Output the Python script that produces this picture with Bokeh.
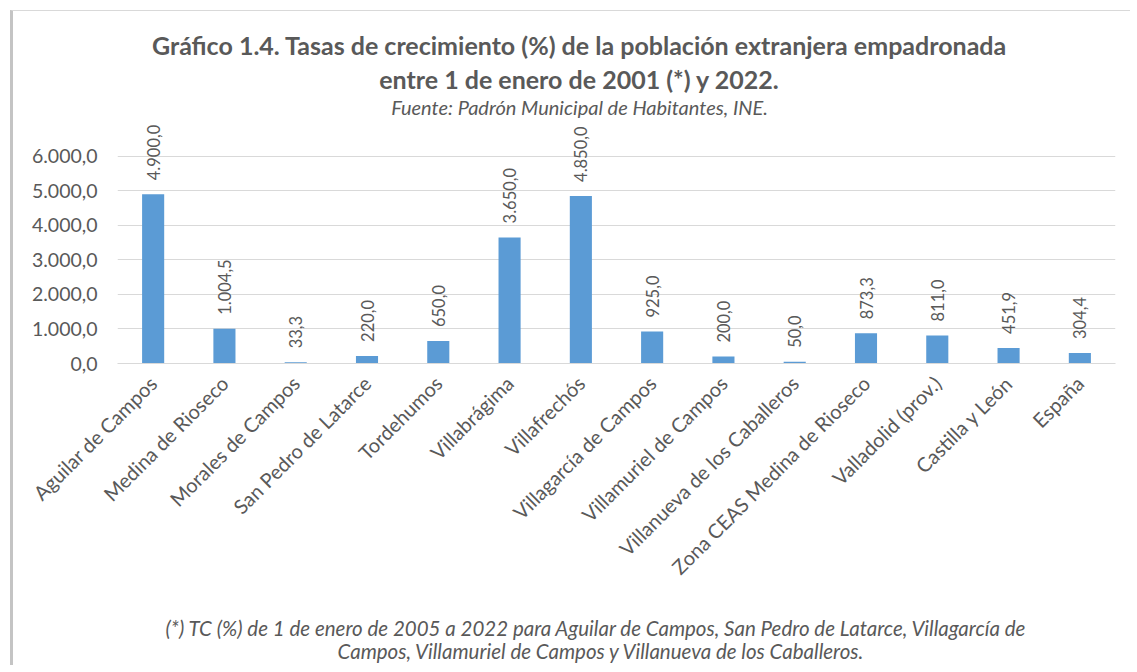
import math
from bokeh.plotting import figure
from bokeh.models import Range1d, FixedTicker, Label, ColumnDataSource, FactorRange, Title
from bokeh.core.properties import value
from bokeh.embed import file_html
from bokeh.resources import INLINE

categories = ["Aguilar de Campos", "Medina de Rioseco", "Morales de Campos",
              "San Pedro de Latarce", "Tordehumos", "Villabrágima", "Villafrechós",
              "Villagarcía de Campos", "Villamuriel de Campos",
              "Villanueva de los Caballeros", "Zona CEAS Medina de Rioseco",
              "Valladolid (prov.)", "Castilla y León", "España"]
values = [4900.0, 1004.5, 33.3, 220.0, 650.0, 3650.0, 4850.0,
          925.0, 200.0, 50.0, 873.3, 811.0, 451.9, 304.4]
y_ticks = [0, 1000, 2000, 3000, 4000, 5000, 6000]

title_1 = "Gráfico 1.4. Tasas de crecimiento (%) de la población extranjera empadronada"
title_2 = "entre 1 de enero de 2001 (*) y 2022."
subtitle = "Fuente: Padrón Municipal de Habitantes, INE."
note_1 = "(*) TC (%) de 1 de enero de 2005 a 2022 para Aguilar de Campos, San Pedro de Latarce, Villagarcía de"
note_2 = "Campos, Villamuriel de Campos y Villanueva de los Caballeros."


def es_fmt(v):
    s = f"{v:,.1f}"
    return s.replace(",", "X").replace(".", ",").replace("X", ".")


FONT = "Lato"
TXT = "#595959"

src = ColumnDataSource(dict(cat=categories, val=values,
                            lab=[es_fmt(v) for v in values]))

p = figure(width=1120, height=655, output_backend="svg", toolbar_location=None,
           x_range=FactorRange(*categories, range_padding=0),
           y_range=Range1d(0, 9928),
           min_border_left=104, min_border_right=18, min_border_top=9,
           min_border_bottom=303)
p.styles = {"margin-left": "10px", "margin-top": "10px",
            "border-left": "3px solid #c4c4c4", "border-top": "1px solid #d9d9d9"}
p.outline_line_color = None
p.background_fill_color = "white"
p.border_fill_color = "white"

p.vbar(x="cat", top="val", width=0.31, source=src, color="#5B9BD5", line_color=None)
p.text(x="cat", y="val", text="lab", source=src, angle=math.pi / 2,
       text_align="left", text_baseline="middle", y_offset=-14,
       text_font=value(FONT), text_font_size="16.5px", text_color=TXT)

p.yaxis.ticker = FixedTicker(ticks=y_ticks)
p.yaxis.major_label_overrides = {t: es_fmt(t) for t in y_ticks}
p.yaxis.axis_line_color = None
p.yaxis.major_tick_line_color = None
p.yaxis.minor_tick_line_color = None
p.yaxis.major_label_text_font = FONT
p.yaxis.major_label_text_font_size = "19.5px"
p.yaxis.major_label_text_color = TXT
p.yaxis.major_label_standoff = 14

p.xaxis.axis_line_color = "#D9D9D9"
p.xaxis.major_tick_line_color = None
p.xaxis.major_label_orientation = math.pi / 4
p.xaxis.major_label_text_font = FONT
p.xaxis.major_label_text_font_size = "20px"
p.xaxis.major_label_text_color = TXT
p.xaxis.major_label_standoff = 10

p.xgrid.grid_line_color = None
p.ygrid.grid_line_color = "#D9D9D9"
p.ygrid.grid_line_width = 1

# titles (screen units, relative to frame bottom-left)
for txt, y, style, size in [(title_1, 319, "bold", "25px"), (title_2, 285, "bold", "25px"),
                            (subtitle, 257, "italic", "20px")]:
    p.add_layout(Label(x=462, y=y, x_units="screen", y_units="screen", text=txt,
                       text_align="center", text_baseline="middle",
                       text_font=FONT, text_font_style=style, text_font_size=size,
                       text_color=TXT))

# footnote below the axis
p.add_layout(Title(text=note_1, align="left", offset=48, standoff=46,
                   text_font=FONT, text_font_style="italic", text_font_size="20.5px",
                   text_color=TXT), "below")
p.add_layout(Title(text=note_2, align="left", offset=220, standoff=-48,
                   vertical_align="top",
                   text_font=FONT, text_font_style="italic", text_font_size="20.5px",
                   text_color=TXT), "below")

open("out.html", "w").write(file_html(p, INLINE))
